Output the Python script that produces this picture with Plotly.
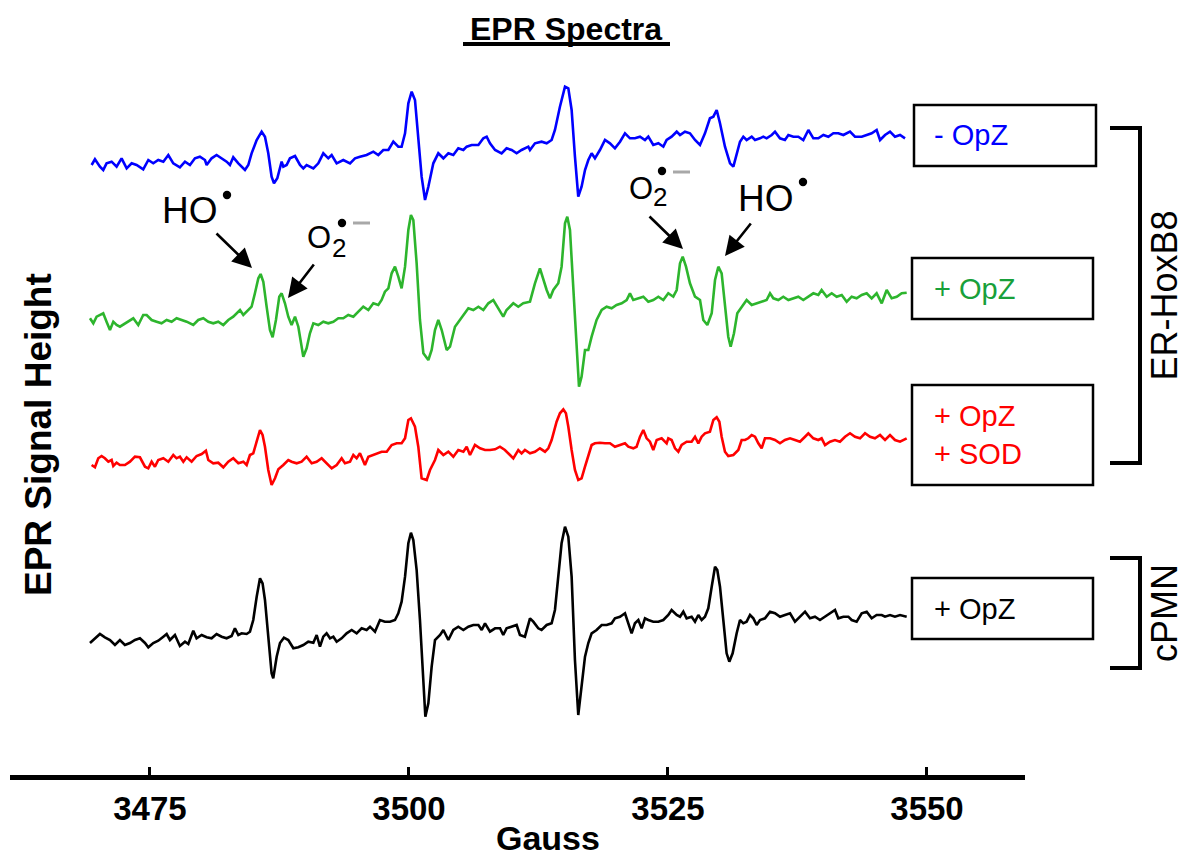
import plotly.graph_objects as go

# ---------------- data ----------------
TITLE = "EPR Spectra"
X_LABEL = "Gauss"
Y_LABEL = "EPR Signal Height"
X_TICKS = [3475, 3500, 3525, 3550]
CONDITIONS = ["- OpZ", "+ OpZ", "+ OpZ<br>+ SOD", "+ OpZ"]
GROUPS = ["ER-HoxB8", "cPMN"]
RADICALS = ["HO", "O", "2"]

# (Gauss, signal height in arbitrary units relative to each trace's baseline)
BLUE_MINUS_OPZ = [
    (3469.37, -5), (3469.69, 0.7), (3470.17, -6.7), (3470.49, -10), (3470.81, -3.3), (3471.30, -1.7),
    (3471.78, -6.7), (3472.26, 1.7), (3472.75, -8.3), (3473.23, -3.3), (3473.71, -5), (3474.35, -9.3),
    (3474.84, 0), (3475.32, -3.3), (3475.80, 0), (3476.29, -1.7), (3476.77, 5), (3477.25, -3.3),
    (3477.89, -7.3), (3478.38, -1.7), (3478.86, -5), (3479.34, 1.7), (3479.82, 3.3), (3480.31, 0),
    (3480.47, -5), (3480.95, 1.7), (3481.43, 5), (3481.92, 1.7), (3482.40, -1.7), (3482.72, -5),
    (3483.04, 2.7), (3483.53, -3.3), (3484.17, -10), (3484.49, -5), (3484.81, 6.7), (3485.30, 20),
    (3485.78, 28.3), (3486.10, 23.3), (3486.42, 6.7), (3486.74, -16.7), (3486.97, -23.3), (3487.29, -18.3),
    (3487.71, -1.7), (3487.87, -6.7), (3488.19, -5), (3488.51, 1.7), (3489.00, 4), (3489.48, -5),
    (3489.80, -8.3), (3490.12, -5), (3490.77, -8.3), (3491.25, -3.3), (3491.73, 6.7), (3492.21, 1.7),
    (3492.54, 5), (3493.02, -3.3), (3493.66, 0), (3494.31, -3.3), (3494.79, 1.7), (3495.27, 3.3),
    (3495.91, 5), (3496.56, 8.3), (3497.04, 5), (3497.52, 10), (3498.01, 10), (3498.49, 18.3),
    (3498.97, 13.3), (3499.29, 13.3), (3499.62, 26.7), (3499.94, 56.7), (3500.26, 68.3), (3500.58, 60),
    (3500.90, 23.3), (3501.22, -16.7), (3501.55, -40), (3501.87, -26.7), (3502.35, -3.3), (3502.83, 6.7),
    (3503.32, 1.7), (3503.80, 6.7), (3504.28, 5), (3504.76, 11.7), (3505.25, 10), (3505.57, 13.3),
    (3506.05, 15), (3506.70, 15), (3507.18, 21.7), (3507.50, 23.3), (3507.82, 16.7), (3508.31, 10),
    (3508.94, 6.7), (3509.42, 11.7), (3509.91, 10), (3510.39, 6.7), (3510.87, 10), (3511.52, 13.3),
    (3511.68, 10), (3512.16, 16.7), (3512.80, 18.3), (3513.29, 16.7), (3513.77, 20), (3514.09, 30),
    (3514.57, 53.3), (3515.06, 73.3), (3515.38, 71.7), (3515.70, 50), (3516.02, 3.3), (3516.34, -36.7),
    (3516.66, -26.7), (3516.99, -10), (3517.31, 0), (3517.63, 6.7), (3517.95, 1.7), (3518.43, 10),
    (3518.92, 20), (3519.40, 16.7), (3519.88, 11.7), (3520.37, 18.3), (3520.85, 26.7), (3521.33, 21.7),
    (3521.81, 21.7), (3522.30, 23.3), (3522.78, 20), (3523.10, 23.3), (3523.58, 15), (3524.07, 16.7),
    (3524.55, 13.3), (3524.87, 20), (3525.35, 23.3), (3525.84, 28.3), (3526.16, 25), (3526.64, 28.3),
    (3527.12, 26.7), (3527.61, 20), (3528.09, 15), (3528.57, 26.7), (3529.05, 41.7), (3529.38, 43.3),
    (3529.70, 50), (3530.02, 36.7), (3530.50, 13.3), (3530.99, -3.3), (3531.31, -6.7), (3531.63, 6.7),
    (3531.95, 18.3), (3532.27, 23.3), (3532.59, 20), (3533.08, 23.3), (3533.40, 20), (3533.88, 21.7),
    (3534.20, 23.3), (3534.52, 21.7), (3535.01, 25), (3535.33, 28.3), (3535.81, 21.7), (3536.29, 20),
    (3536.62, 25), (3537.10, 23.3), (3537.58, 23.3), (3538.06, 20), (3538.55, 30), (3539.03, 21.7),
    (3539.51, 21.7), (3540.00, 25), (3540.48, 23.3), (3540.96, 26.7), (3541.44, 26.7), (3541.93, 25),
    (3542.57, 28.3), (3543.05, 23.3), (3543.70, 23.3), (3544.18, 25), (3544.66, 26.7), (3545.14, 30),
    (3545.47, 20), (3545.95, 25), (3546.43, 28.3), (3546.91, 23.3), (3547.40, 25), (3547.88, 21.7),
]

GREEN_PLUS_OPZ = [
    (3469.21, 1.7), (3469.53, -3.3), (3469.85, 3.3), (3470.17, 5), (3470.49, 6.7), (3470.81, -1.7),
    (3471.14, -10), (3471.46, -1.7), (3471.78, -5), (3472.10, -6.7), (3472.58, -3.3), (3473.07, 0),
    (3473.39, 1.7), (3473.87, -5), (3474.35, 5), (3474.68, 5), (3475.16, 0), (3475.64, -1.7),
    (3476.12, -3.3), (3476.61, 0), (3477.09, -1.7), (3477.57, 1.7), (3478.05, 0), (3478.54, -1.7),
    (3479.18, -5), (3479.66, 0), (3480.15, 1.7), (3480.63, -1.7), (3481.11, -3.3), (3481.59, -1.7),
    (3482.08, -5), (3482.56, 0), (3483.04, 3.3), (3483.53, 8.3), (3483.69, 10), (3484.01, 5),
    (3484.49, 10), (3484.81, 13.3), (3485.13, 26.7), (3485.46, 41.7), (3485.68, 46), (3485.94, 38.3),
    (3486.26, 13.3), (3486.58, -10), (3486.84, -17.3), (3487.16, 0), (3487.48, 23.3), (3487.71, 26.7),
    (3488.03, 16.7), (3488.35, 3.3), (3488.67, -5), (3489.00, 3.3), (3489.32, -6.7), (3489.64, -30),
    (3489.80, -36.7), (3490.12, -28.3), (3490.44, -13.3), (3490.77, -3.3), (3491.25, -5), (3491.73, -1.7),
    (3492.21, -3.3), (3492.70, -1.7), (3493.18, 1.7), (3493.66, 1.7), (3494.14, 5), (3494.63, 3.3),
    (3495.11, 8.3), (3495.59, 13.3), (3496.08, 10), (3496.56, 16.7), (3497.04, 15), (3497.36, 20),
    (3497.68, 28.3), (3498.01, 31.7), (3498.33, 46.7), (3498.65, 53.3), (3498.97, 43.3), (3499.29, 31.7),
    (3499.62, 53.3), (3499.94, 90), (3500.19, 105), (3500.42, 100), (3500.74, 56.7), (3501.06, 0),
    (3501.39, -33.3), (3501.87, -40), (3502.19, -30), (3502.51, -10), (3502.83, 0), (3503.16, -10),
    (3503.64, -30), (3503.96, -26.7), (3504.44, -6.7), (3504.93, 0), (3505.41, 6.7), (3505.73, 11.7),
    (3506.21, 10), (3506.70, 13.3), (3507.18, 10), (3507.66, 16.7), (3508.14, 20), (3508.63, 11.7),
    (3509.10, 3.3), (3509.42, 10), (3510.07, 16.7), (3510.55, 13.3), (3511.03, 16.7), (3511.68, 18.3),
    (3512.16, 36.7), (3512.64, 51.7), (3512.96, 40), (3513.29, 30), (3513.61, 21.7), (3513.93, 30),
    (3514.41, 36.7), (3514.73, 53.3), (3515.06, 96.7), (3515.28, 103.3), (3515.54, 90), (3515.86, 36.7),
    (3516.18, -23.3), (3516.41, -66.7), (3516.66, -56.7), (3516.99, -30), (3517.31, -30), (3517.63, -16.7),
    (3518.11, 0), (3518.60, 10), (3519.08, 13.3), (3519.56, 11.7), (3520.04, 15), (3520.53, 16.7),
    (3521.01, 20), (3521.33, 26.7), (3521.65, 20), (3522.14, 21.7), (3522.62, 23.3), (3523.10, 18.3),
    (3523.58, 20), (3524.07, 23.3), (3524.55, 20), (3525.03, 26.7), (3525.51, 23.3), (3525.84, 30),
    (3526.16, 56.7), (3526.42, 63.3), (3526.74, 53.3), (3527.12, 36.7), (3527.61, 23.3), (3528.09, 20),
    (3528.41, 0), (3528.80, -5), (3529.22, 6.7), (3529.54, 40), (3529.86, 53.3), (3530.18, 46.7),
    (3530.50, 16.7), (3530.82, -16.7), (3531.05, -26.7), (3531.37, -13.3), (3531.69, 6.7), (3532.11, 13.3),
    (3532.59, 20), (3533.08, 15), (3533.56, 16.7), (3534.04, 18.3), (3534.52, 20), (3534.85, 26.7),
    (3535.17, 21.7), (3535.65, 20), (3536.13, 23.3), (3536.62, 20), (3537.10, 21.7), (3537.58, 23.3),
    (3538.06, 20), (3538.55, 23.3), (3539.03, 26.7), (3539.51, 25), (3539.83, 30), (3540.32, 23.3),
    (3540.80, 26.7), (3541.28, 23.3), (3541.77, 25), (3542.25, 18.3), (3542.73, 23.3), (3543.21, 21.7),
    (3543.70, 25), (3544.18, 26.7), (3544.66, 21.7), (3545.14, 26.7), (3545.63, 16.7), (3546.11, 30),
    (3546.59, 21.7), (3547.08, 23.3), (3547.56, 26.7), (3548.04, 27.3),
]

RED_PLUS_OPZ_SOD = [
    (3469.37, 0), (3469.69, -2.3), (3470.01, 6.7), (3470.33, 9), (3470.65, 6.7), (3470.98, 3.3),
    (3471.30, 5), (3471.46, -1), (3471.78, 2.3), (3472.10, 0), (3472.58, 0), (3473.07, 3.3),
    (3473.55, 8.3), (3474.03, 7.7), (3474.52, -1.7), (3474.84, -3.3), (3475.16, 3.3), (3475.48, -1.7),
    (3475.80, 5), (3476.29, 6.7), (3476.77, 3.3), (3477.25, 10), (3477.57, 6.7), (3477.89, 8.3),
    (3478.22, 3.3), (3478.54, 7.7), (3479.02, 3.3), (3479.50, 9), (3479.99, 11), (3480.40, 14.3),
    (3480.63, 5), (3481.11, 1.7), (3481.59, 2.3), (3482.08, -2.3), (3482.56, 3.3), (3483.04, 6.7),
    (3483.53, 1.7), (3484.01, 3.3), (3484.33, 0), (3484.65, 10), (3484.97, 11.7), (3485.30, 23.3),
    (3485.62, 35), (3485.87, 30), (3486.10, 18.3), (3486.42, -5), (3486.74, -20), (3487.07, -13.3),
    (3487.39, -4.3), (3487.87, 0), (3488.35, 5), (3488.67, 3.3), (3489.16, 1.7), (3489.64, 3.3),
    (3490.12, 8.3), (3490.61, 1.7), (3491.09, 3.3), (3491.57, 6.7), (3492.05, 1.7), (3492.54, -3.3),
    (3493.02, 0), (3493.50, 6.7), (3493.82, 1.7), (3494.31, 3.3), (3494.63, 10), (3494.95, 6.7),
    (3495.27, 11.7), (3495.75, 0), (3496.08, 8.3), (3496.56, 10), (3497.04, 11.7), (3497.36, 13.3),
    (3497.85, 13.3), (3498.33, 20), (3498.81, 21.7), (3499.29, 21.7), (3499.62, 26.7), (3499.94, 45),
    (3500.19, 46.7), (3500.58, 38.3), (3500.90, 18.3), (3501.22, -13.3), (3501.71, -15), (3502.03, -5),
    (3502.51, 5), (3502.83, 15), (3503.32, 10), (3503.80, 13.3), (3504.28, 8.3), (3504.76, 15),
    (3505.25, 13.3), (3505.57, 18.3), (3505.89, 10), (3506.37, 20), (3506.86, 16.7), (3507.34, 15),
    (3507.82, 15), (3508.31, 15.7), (3508.78, 18.3), (3509.26, 15), (3509.75, 10), (3510.07, 6.7),
    (3510.55, 15), (3510.87, 11.7), (3511.19, 15), (3511.68, 11.7), (3512.16, 13.3), (3512.64, 16.7),
    (3513.13, 13.3), (3513.45, 16.7), (3513.77, 25), (3514.25, 43.3), (3514.57, 51.7), (3514.90, 55.7),
    (3515.15, 51.7), (3515.38, 38.3), (3515.70, 15), (3516.02, -5), (3516.34, -15), (3516.66, -13.3),
    (3516.99, -1.7), (3517.31, 8.3), (3517.63, 20), (3517.95, 21.7), (3518.43, 22.3), (3518.92, 21.7),
    (3519.40, 21.7), (3519.88, 18.3), (3520.37, 20), (3520.85, 21.7), (3521.17, 18.3), (3521.65, 16.7),
    (3521.97, 18.3), (3522.30, 28.3), (3522.62, 35), (3522.94, 26.7), (3523.26, 23.3), (3523.58, 15),
    (3523.91, 25), (3524.39, 26.7), (3524.87, 21.7), (3525.03, 26.7), (3525.35, 25), (3525.68, 16.7),
    (3526.00, 13.3), (3526.32, 20), (3526.80, 23.3), (3527.28, 23.3), (3527.61, 28.3), (3527.93, 21.7),
    (3528.25, 28.3), (3528.57, 31.7), (3529.05, 33.3), (3529.38, 45), (3529.70, 47.7), (3529.96, 43.3),
    (3530.18, 28.3), (3530.50, 13.3), (3530.82, 9), (3531.31, 10), (3531.79, 15), (3532.11, 25),
    (3532.43, 25), (3532.75, 26.7), (3533.08, 30), (3533.40, 28.3), (3533.72, 21.7), (3534.04, 16.7),
    (3534.36, 26.7), (3534.85, 26.7), (3535.33, 25), (3535.81, 21.7), (3536.29, 25), (3536.78, 26.7),
    (3537.26, 25), (3537.74, 23.3), (3538.23, 28.3), (3538.55, 31.7), (3539.03, 26.7), (3539.51, 25),
    (3539.83, 26.7), (3540.16, 20), (3540.64, 23.3), (3541.12, 25), (3541.60, 23.3), (3542.09, 28.3),
    (3542.57, 31.7), (3543.05, 28.3), (3543.54, 26.7), (3544.02, 31.7), (3544.50, 28.3), (3544.98, 26.7),
    (3545.47, 30), (3545.95, 25), (3546.43, 30), (3546.91, 25), (3547.40, 23.3), (3548.04, 26.7),
]

BLACK_CPMN_PLUS_OPZ = [
    (3469.21, 0), (3469.69, 4.7), (3470.17, 9), (3470.65, 5.7), (3471.14, 3), (3471.62, -2),
    (3472.10, 3), (3472.58, -2), (3473.07, 0), (3473.55, 3), (3474.03, 4.7), (3474.52, 0),
    (3474.84, -4.3), (3475.32, 0), (3475.80, 2.3), (3476.29, 6.3), (3476.61, 9), (3476.93, 3),
    (3477.41, 8), (3477.89, -3), (3478.38, 1.3), (3478.70, -1), (3479.18, 12.3), (3479.50, 4.7),
    (3479.99, 8), (3480.47, 5.7), (3480.95, 4.7), (3481.43, 9), (3481.92, 6.3), (3482.40, 4.7),
    (3482.88, 7), (3483.20, 14.7), (3483.53, 8), (3483.85, 9.7), (3484.33, 9), (3484.65, 11.3),
    (3484.97, 23), (3485.30, 46.3), (3485.62, 64.7), (3485.87, 59.7), (3486.10, 43), (3486.42, 6.3),
    (3486.74, -30.3), (3486.90, -35.3), (3487.23, -13.7), (3487.55, 0), (3487.93, 5.3), (3488.35, 3),
    (3488.84, -5.3), (3489.32, -4.3), (3489.80, -2), (3490.28, 1.3), (3490.77, 0.3), (3491.09, 8),
    (3491.41, -3.7), (3491.73, 6.3), (3492.05, 9.7), (3492.38, 4.7), (3492.70, 6.3), (3493.02, 1.3),
    (3493.50, 4.7), (3493.98, 9.7), (3494.47, 13), (3494.95, 9.7), (3495.43, 14.7), (3495.91, 13),
    (3496.24, 16.3), (3496.72, 11.3), (3497.20, 23), (3497.68, 21.3), (3498.17, 21.3), (3498.65, 23),
    (3498.97, 29.7), (3499.29, 41.3), (3499.62, 66.3), (3499.94, 99.7), (3500.19, 110.3), (3500.42, 103),
    (3500.74, 73), (3501.06, 23), (3501.39, -40.3), (3501.58, -73.7), (3501.87, -60.3), (3502.19, -23.7),
    (3502.51, 3), (3503.00, 8), (3503.32, 13), (3503.80, 3), (3504.28, 13), (3504.76, 16.3),
    (3505.25, 13), (3505.73, 16.3), (3506.21, 18), (3506.70, 18), (3507.02, 13), (3507.34, 19.7),
    (3507.82, 11.3), (3508.31, 14.7), (3508.79, 14.7), (3509.10, 8), (3509.42, 14.7), (3509.91, 16.3),
    (3510.39, 18), (3510.71, 8), (3511.19, 6.3), (3511.68, 24.7), (3512.00, 21.3), (3512.48, 14.7),
    (3512.80, 13), (3513.29, 18), (3513.77, 19.7), (3514.09, 33), (3514.41, 66.3), (3514.73, 99.7),
    (3515.06, 116.3), (3515.38, 106.3), (3515.70, 66.3), (3516.02, -17), (3516.34, -72), (3516.66, -43.7),
    (3516.99, -13.7), (3517.31, 0), (3517.63, 9.7), (3518.11, 13), (3518.60, 18), (3519.08, 18),
    (3519.56, 19.7), (3519.88, 24.7), (3520.37, 26.3), (3520.85, 29.7), (3521.17, 19.7), (3521.49, 9.7),
    (3521.81, 19.7), (3522.14, 23), (3522.46, 14.7), (3522.78, 24.7), (3523.10, 23), (3523.58, 21.3),
    (3524.07, 21.3), (3524.55, 23), (3525.03, 28), (3525.35, 33), (3525.84, 28), (3526.16, 26.3),
    (3526.48, 31.3), (3526.80, 24.7), (3527.28, 26.3), (3527.61, 21.3), (3527.93, 28), (3528.25, 23),
    (3528.57, 26.3), (3528.89, 34.7), (3529.22, 56.3), (3529.54, 76.3), (3529.76, 73), (3530.02, 56.3),
    (3530.34, 23), (3530.66, -10.3), (3530.92, -18.7), (3531.24, -10.3), (3531.63, 9.7), (3531.95, 23),
    (3532.27, 19.7), (3532.59, 21.3), (3532.92, 28), (3533.24, 24.7), (3533.56, 18), (3533.88, 23),
    (3534.36, 24.7), (3534.85, 31.3), (3535.33, 29.7), (3535.81, 26.3), (3536.29, 28), (3536.78, 29.7),
    (3537.26, 21.3), (3537.74, 26.3), (3538.23, 31.3), (3538.71, 24.7), (3539.19, 26.3), (3539.67, 23),
    (3540.16, 26.3), (3540.64, 29.7), (3541.12, 33), (3541.44, 24.7), (3541.93, 26.3), (3542.41, 26.3),
    (3542.73, 23), (3543.21, 21.3), (3543.70, 29.7), (3544.18, 31.3), (3544.66, 24.7), (3545.14, 28),
    (3545.63, 28), (3545.95, 26.3), (3546.43, 28), (3546.91, 26.3), (3547.40, 28), (3548.04, 26.3),
]

SPECTRA = [BLUE_MINUS_OPZ, GREEN_PLUS_OPZ, RED_PLUS_OPZ_SOD, BLACK_CPMN_PLUS_OPZ]

# ---------------- styles / layout ----------------
LINE_COLORS = ["#0000FF", "#2DB52D", "#FF0000", "#000000"]
TEXT_COLORS = ["#0000FF", "#18A03A", "#FF0000", "#000000"]
STACK_OFFSETS = [615, 455, 310, 132]  # vertical stacking of the spectra
FONT = "Liberation Sans, Arial, sans-serif"

PAGE = 8                      # default page margin of the html body
W, H = 1196 - PAGE, 861 - PAGE
# plot area expressed in screen pixels of the final picture
SL, SR, ST, SB = 10, 1025, 60, 775
X_RANGE = [3461.49, 3559.46]
Y_RANGE = [0, SB - ST]


def fx(p):
    return (p - SL) / (SR - SL)


def fy(p):
    return (SB - p) / (SB - ST)


fig = go.Figure()
for spec, col, off in zip(SPECTRA, LINE_COLORS, STACK_OFFSETS):
    fig.add_trace(go.Scatter(
        x=[g for g, _ in spec],
        y=[s + off for _, s in spec],
        mode="lines",
        line=dict(color=col, width=2.6),
        showlegend=False,
        hoverinfo="skip",
    ))

shapes = []
ann = []


def text(cx, cy, t, size, color="black", angle=0, xanchor="center"):
    ann.append(dict(x=fx(cx), y=fy(cy), xref="paper", yref="paper", text=t, showarrow=False,
                    xanchor=xanchor, yanchor="middle", align="left", textangle=angle,
                    font=dict(family=FONT, size=size, color=color)))


# title + underline
text(566, 29, "<b>" + TITLE + "</b>", 32)
shapes.append(dict(type="line", xref="paper", yref="paper", x0=fx(463), x1=fx(670), y0=fy(44), y1=fy(44),
                   line=dict(color="black", width=4)))

# axis titles
text(38, 435, "<b>" + Y_LABEL + "</b>", 37, angle=-90)
text(548, 838, "<b>" + X_LABEL + "</b>", 34)

# legend boxes
BOXES = [(914, 105, 1096, 166), (912, 258, 1093, 319), (912, 385, 1093, 485), (912, 578, 1093, 639)]
for (x0, y0, x1, y1), label, col in zip(BOXES, CONDITIONS, TEXT_COLORS):
    shapes.append(dict(type="rect", xref="paper", yref="paper", x0=fx(x0), x1=fx(x1), y0=fy(y0), y1=fy(y1),
                       line=dict(color="black", width=2.5), fillcolor="white"))
    text(932, (y0 + y1) / 2, label, 29, color=col, xanchor="left")

# group brackets
for (ytop, ybot), name in zip([(128, 463), (558, 668)], GROUPS):
    shapes.append(dict(type="path", xref="paper", yref="paper",
                       path=f"M {fx(1110)},{fy(ytop)} L {fx(1140)},{fy(ytop)} L {fx(1140)},{fy(ybot)} L {fx(1110)},{fy(ybot)}",
                       line=dict(color="black", width=4)))
    text(1164, (ytop + ybot) / 2, name, 36, angle=-90)


def dot(cx, cy, r=4.2):
    shapes.append(dict(type="circle", xref="paper", yref="paper", x0=fx(cx - r), x1=fx(cx + r),
                       y0=fy(cy + r), y1=fy(cy - r), fillcolor="black", line=dict(width=0)))


def dash(xa, xb, yy):
    shapes.append(dict(type="line", xref="paper", yref="paper", x0=fx(xa), x1=fx(xb), y0=fy(yy), y1=fy(yy),
                       line=dict(color="#A8A8A8", width=3)))


# left HO
text(190, 211, RADICALS[0], 37)
dot(227, 195)
# left O2
text(319, 238, RADICALS[1], 31)
text(339, 248, RADICALS[2], 26)
dot(342, 223)
dash(353, 370, 223)
# right O2
text(641, 188, RADICALS[1], 31)
text(660, 197, RADICALS[2], 26)
dot(662, 171)
dash(673, 690, 172)
# right HO
text(766, 199, RADICALS[0], 37)
dot(803, 182)

# arrows (tip, tail)
for (tx, ty), (sx, sy) in [((252, 268), (215, 232)), ((288, 298), (315, 263)),
                           ((683, 249), (648, 215)), ((725, 256), (752, 222))]:
    ann.append(dict(x=fx(tx), y=fy(ty), xref="paper", yref="paper", ax=sx - tx, ay=sy - ty,
                    text="", showarrow=True, arrowhead=2, arrowsize=1.5, arrowwidth=2.6,
                    arrowcolor="black", standoff=0, startstandoff=0))

fig.update_layout(
    width=W, height=H,
    margin=dict(l=SL - PAGE, r=W - (SR - PAGE), t=ST - PAGE, b=H - (SB - PAGE), pad=0),
    paper_bgcolor="white", plot_bgcolor="white",
    shapes=shapes, annotations=ann,
    xaxis=dict(range=X_RANGE, tickvals=X_TICKS, ticktext=[str(v) for v in X_TICKS],
               showline=True, linewidth=5, linecolor="black",
               ticks="inside", ticklen=8, tickwidth=3, tickcolor="black",
               tickfont=dict(family=FONT, size=33, color="black", weight="bold"),
               showgrid=False, zeroline=False, fixedrange=True),
    yaxis=dict(range=Y_RANGE, visible=False, showgrid=False, zeroline=False, fixedrange=True),
    showlegend=False,
)

fig.write_html("out.html")
